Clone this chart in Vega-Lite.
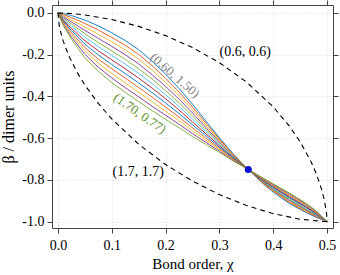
{
"$schema":"https://vega.github.io/schema/vega-lite/v6.json",
"width":281,"height":223,"autosize":"none",
"padding":{"left":52,"top":5,"right":7,"bottom":47},
"config":{"font":"Liberation Serif","view":{"stroke":null},
"axis":{"labelFont":"Liberation Serif","titleFont":"Liberation Serif","domainColor":"#444","tickColor":"#444","tickSize":5,"labelColor":"black","titleColor":"black","labelFontSize":14,"titleFontSize":15,"titleFontWeight":"normal","gridColor":"#d6d6d6","gridDash":[1,2],"gridWidth":0.8}},
"datasets":{
"curves":[
{"a":"0.60","x":0,"y":0},{"a":"0.60","x":0.01,"y":-0.003},{"a":"0.60","x":0.025,"y":-0.012},{"a":"0.60","x":0.05,"y":-0.034},{"a":"0.60","x":0.075,"y":-0.062},{"a":"0.60","x":0.1,"y":-0.095},{"a":"0.60","x":0.125,"y":-0.132},{"a":"0.60","x":0.15,"y":-0.176},{"a":"0.60","x":0.175,"y":-0.231},{"a":"0.60","x":0.2,"y":-0.293},{"a":"0.60","x":0.225,"y":-0.362},{"a":"0.60","x":0.25,"y":-0.437},{"a":"0.60","x":0.275,"y":-0.518},{"a":"0.60","x":0.3,"y":-0.598},{"a":"0.60","x":0.325,"y":-0.673},{"a":"0.60","x":0.3536,"y":-0.75},{"a":"0.60","x":0.38,"y":-0.815},{"a":"0.60","x":0.4,"y":-0.858},{"a":"0.60","x":0.43,"y":-0.913},{"a":"0.60","x":0.46,"y":-0.955},{"a":"0.60","x":0.48,"y":-0.979},{"a":"0.60","x":0.5,"y":-1},
{"a":"0.70","x":0,"y":0},{"a":"0.70","x":0.01,"y":-0.008},{"a":"0.70","x":0.025,"y":-0.022},{"a":"0.70","x":0.05,"y":-0.05},{"a":"0.70","x":0.075,"y":-0.082},{"a":"0.70","x":0.1,"y":-0.117},{"a":"0.70","x":0.125,"y":-0.155},{"a":"0.70","x":0.15,"y":-0.199},{"a":"0.70","x":0.175,"y":-0.253},{"a":"0.70","x":0.2,"y":-0.313},{"a":"0.70","x":0.225,"y":-0.379},{"a":"0.70","x":0.25,"y":-0.451},{"a":"0.70","x":0.275,"y":-0.528},{"a":"0.70","x":0.3,"y":-0.604},{"a":"0.70","x":0.325,"y":-0.676},{"a":"0.70","x":0.3536,"y":-0.75},{"a":"0.70","x":0.38,"y":-0.813},{"a":"0.70","x":0.4,"y":-0.854},{"a":"0.70","x":0.43,"y":-0.908},{"a":"0.70","x":0.46,"y":-0.951},{"a":"0.70","x":0.48,"y":-0.976},{"a":"0.70","x":0.5,"y":-1},
{"a":"0.80","x":0,"y":0},{"a":"0.80","x":0.01,"y":-0.013},{"a":"0.80","x":0.025,"y":-0.033},{"a":"0.80","x":0.05,"y":-0.067},{"a":"0.80","x":0.075,"y":-0.102},{"a":"0.80","x":0.1,"y":-0.138},{"a":"0.80","x":0.125,"y":-0.177},{"a":"0.80","x":0.15,"y":-0.221},{"a":"0.80","x":0.175,"y":-0.274},{"a":"0.80","x":0.2,"y":-0.333},{"a":"0.80","x":0.225,"y":-0.396},{"a":"0.80","x":0.25,"y":-0.465},{"a":"0.80","x":0.275,"y":-0.538},{"a":"0.80","x":0.3,"y":-0.611},{"a":"0.80","x":0.325,"y":-0.679},{"a":"0.80","x":0.3536,"y":-0.75},{"a":"0.80","x":0.38,"y":-0.81},{"a":"0.80","x":0.4,"y":-0.851},{"a":"0.80","x":0.43,"y":-0.904},{"a":"0.80","x":0.46,"y":-0.947},{"a":"0.80","x":0.48,"y":-0.973},{"a":"0.80","x":0.5,"y":-1},
{"a":"0.90","x":0,"y":0},{"a":"0.90","x":0.01,"y":-0.019},{"a":"0.90","x":0.025,"y":-0.043},{"a":"0.90","x":0.05,"y":-0.083},{"a":"0.90","x":0.075,"y":-0.122},{"a":"0.90","x":0.1,"y":-0.16},{"a":"0.90","x":0.125,"y":-0.2},{"a":"0.90","x":0.15,"y":-0.244},{"a":"0.90","x":0.175,"y":-0.296},{"a":"0.90","x":0.2,"y":-0.352},{"a":"0.90","x":0.225,"y":-0.413},{"a":"0.90","x":0.25,"y":-0.479},{"a":"0.90","x":0.275,"y":-0.549},{"a":"0.90","x":0.3,"y":-0.617},{"a":"0.90","x":0.325,"y":-0.683},{"a":"0.90","x":0.3536,"y":-0.75},{"a":"0.90","x":0.38,"y":-0.808},{"a":"0.90","x":0.4,"y":-0.847},{"a":"0.90","x":0.43,"y":-0.899},{"a":"0.90","x":0.46,"y":-0.943},{"a":"0.90","x":0.48,"y":-0.971},{"a":"0.90","x":0.5,"y":-1},
{"a":"1.00","x":0,"y":0},{"a":"1.00","x":0.01,"y":-0.024},{"a":"1.00","x":0.025,"y":-0.053},{"a":"1.00","x":0.05,"y":-0.1},{"a":"1.00","x":0.075,"y":-0.141},{"a":"1.00","x":0.1,"y":-0.182},{"a":"1.00","x":0.125,"y":-0.222},{"a":"1.00","x":0.15,"y":-0.267},{"a":"1.00","x":0.175,"y":-0.317},{"a":"1.00","x":0.2,"y":-0.372},{"a":"1.00","x":0.225,"y":-0.43},{"a":"1.00","x":0.25,"y":-0.493},{"a":"1.00","x":0.275,"y":-0.559},{"a":"1.00","x":0.3,"y":-0.623},{"a":"1.00","x":0.325,"y":-0.686},{"a":"1.00","x":0.3536,"y":-0.75},{"a":"1.00","x":0.38,"y":-0.806},{"a":"1.00","x":0.4,"y":-0.844},{"a":"1.00","x":0.43,"y":-0.895},{"a":"1.00","x":0.46,"y":-0.939},{"a":"1.00","x":0.48,"y":-0.968},{"a":"1.00","x":0.5,"y":-1},
{"a":"1.10","x":0,"y":0},{"a":"1.10","x":0.01,"y":-0.029},{"a":"1.10","x":0.025,"y":-0.063},{"a":"1.10","x":0.05,"y":-0.116},{"a":"1.10","x":0.075,"y":-0.161},{"a":"1.10","x":0.1,"y":-0.203},{"a":"1.10","x":0.125,"y":-0.245},{"a":"1.10","x":0.15,"y":-0.289},{"a":"1.10","x":0.175,"y":-0.339},{"a":"1.10","x":0.2,"y":-0.392},{"a":"1.10","x":0.225,"y":-0.448},{"a":"1.10","x":0.25,"y":-0.508},{"a":"1.10","x":0.275,"y":-0.569},{"a":"1.10","x":0.3,"y":-0.63},{"a":"1.10","x":0.325,"y":-0.689},{"a":"1.10","x":0.3536,"y":-0.75},{"a":"1.10","x":0.38,"y":-0.803},{"a":"1.10","x":0.4,"y":-0.84},{"a":"1.10","x":0.43,"y":-0.89},{"a":"1.10","x":0.46,"y":-0.935},{"a":"1.10","x":0.48,"y":-0.965},{"a":"1.10","x":0.5,"y":-1},
{"a":"1.20","x":0,"y":0},{"a":"1.20","x":0.01,"y":-0.034},{"a":"1.20","x":0.025,"y":-0.074},{"a":"1.20","x":0.05,"y":-0.133},{"a":"1.20","x":0.075,"y":-0.181},{"a":"1.20","x":0.1,"y":-0.225},{"a":"1.20","x":0.125,"y":-0.267},{"a":"1.20","x":0.15,"y":-0.312},{"a":"1.20","x":0.175,"y":-0.36},{"a":"1.20","x":0.2,"y":-0.411},{"a":"1.20","x":0.225,"y":-0.465},{"a":"1.20","x":0.25,"y":-0.522},{"a":"1.20","x":0.275,"y":-0.579},{"a":"1.20","x":0.3,"y":-0.636},{"a":"1.20","x":0.325,"y":-0.692},{"a":"1.20","x":0.3536,"y":-0.75},{"a":"1.20","x":0.38,"y":-0.801},{"a":"1.20","x":0.4,"y":-0.836},{"a":"1.20","x":0.43,"y":-0.885},{"a":"1.20","x":0.46,"y":-0.93},{"a":"1.20","x":0.48,"y":-0.962},{"a":"1.20","x":0.5,"y":-1},
{"a":"1.30","x":0,"y":0},{"a":"1.30","x":0.01,"y":-0.039},{"a":"1.30","x":0.025,"y":-0.084},{"a":"1.30","x":0.05,"y":-0.149},{"a":"1.30","x":0.075,"y":-0.201},{"a":"1.30","x":0.1,"y":-0.247},{"a":"1.30","x":0.125,"y":-0.29},{"a":"1.30","x":0.15,"y":-0.335},{"a":"1.30","x":0.175,"y":-0.382},{"a":"1.30","x":0.2,"y":-0.431},{"a":"1.30","x":0.225,"y":-0.482},{"a":"1.30","x":0.25,"y":-0.536},{"a":"1.30","x":0.275,"y":-0.589},{"a":"1.30","x":0.3,"y":-0.643},{"a":"1.30","x":0.325,"y":-0.695},{"a":"1.30","x":0.3536,"y":-0.75},{"a":"1.30","x":0.38,"y":-0.798},{"a":"1.30","x":0.4,"y":-0.833},{"a":"1.30","x":0.43,"y":-0.881},{"a":"1.30","x":0.46,"y":-0.926},{"a":"1.30","x":0.48,"y":-0.959},{"a":"1.30","x":0.5,"y":-1},
{"a":"1.40","x":0,"y":0},{"a":"1.40","x":0.01,"y":-0.044},{"a":"1.40","x":0.025,"y":-0.094},{"a":"1.40","x":0.05,"y":-0.166},{"a":"1.40","x":0.075,"y":-0.221},{"a":"1.40","x":0.1,"y":-0.268},{"a":"1.40","x":0.125,"y":-0.312},{"a":"1.40","x":0.15,"y":-0.357},{"a":"1.40","x":0.175,"y":-0.403},{"a":"1.40","x":0.2,"y":-0.451},{"a":"1.40","x":0.225,"y":-0.499},{"a":"1.40","x":0.25,"y":-0.55},{"a":"1.40","x":0.275,"y":-0.6},{"a":"1.40","x":0.3,"y":-0.649},{"a":"1.40","x":0.325,"y":-0.699},{"a":"1.40","x":0.3536,"y":-0.75},{"a":"1.40","x":0.38,"y":-0.796},{"a":"1.40","x":0.4,"y":-0.829},{"a":"1.40","x":0.43,"y":-0.876},{"a":"1.40","x":0.46,"y":-0.922},{"a":"1.40","x":0.48,"y":-0.956},{"a":"1.40","x":0.5,"y":-1},
{"a":"1.50","x":0,"y":0},{"a":"1.50","x":0.01,"y":-0.05},{"a":"1.50","x":0.025,"y":-0.104},{"a":"1.50","x":0.05,"y":-0.182},{"a":"1.50","x":0.075,"y":-0.24},{"a":"1.50","x":0.1,"y":-0.29},{"a":"1.50","x":0.125,"y":-0.335},{"a":"1.50","x":0.15,"y":-0.38},{"a":"1.50","x":0.175,"y":-0.425},{"a":"1.50","x":0.2,"y":-0.471},{"a":"1.50","x":0.225,"y":-0.516},{"a":"1.50","x":0.25,"y":-0.564},{"a":"1.50","x":0.275,"y":-0.61},{"a":"1.50","x":0.3,"y":-0.655},{"a":"1.50","x":0.325,"y":-0.702},{"a":"1.50","x":0.3536,"y":-0.75},{"a":"1.50","x":0.38,"y":-0.794},{"a":"1.50","x":0.4,"y":-0.825},{"a":"1.50","x":0.43,"y":-0.871},{"a":"1.50","x":0.46,"y":-0.918},{"a":"1.50","x":0.48,"y":-0.954},{"a":"1.50","x":0.5,"y":-1},
{"a":"1.60","x":0,"y":0},{"a":"1.60","x":0.01,"y":-0.055},{"a":"1.60","x":0.025,"y":-0.115},{"a":"1.60","x":0.05,"y":-0.198},{"a":"1.60","x":0.075,"y":-0.26},{"a":"1.60","x":0.1,"y":-0.311},{"a":"1.60","x":0.125,"y":-0.358},{"a":"1.60","x":0.15,"y":-0.402},{"a":"1.60","x":0.175,"y":-0.447},{"a":"1.60","x":0.2,"y":-0.49},{"a":"1.60","x":0.225,"y":-0.533},{"a":"1.60","x":0.25,"y":-0.578},{"a":"1.60","x":0.275,"y":-0.62},{"a":"1.60","x":0.3,"y":-0.662},{"a":"1.60","x":0.325,"y":-0.705},{"a":"1.60","x":0.3536,"y":-0.75},{"a":"1.60","x":0.38,"y":-0.791},{"a":"1.60","x":0.4,"y":-0.822},{"a":"1.60","x":0.43,"y":-0.867},{"a":"1.60","x":0.46,"y":-0.914},{"a":"1.60","x":0.48,"y":-0.951},{"a":"1.60","x":0.5,"y":-1},
{"a":"1.70","x":0,"y":0},{"a":"1.70","x":0.01,"y":-0.06},{"a":"1.70","x":0.025,"y":-0.125},{"a":"1.70","x":0.05,"y":-0.215},{"a":"1.70","x":0.075,"y":-0.28},{"a":"1.70","x":0.1,"y":-0.333},{"a":"1.70","x":0.125,"y":-0.38},{"a":"1.70","x":0.15,"y":-0.425},{"a":"1.70","x":0.175,"y":-0.468},{"a":"1.70","x":0.2,"y":-0.51},{"a":"1.70","x":0.225,"y":-0.55},{"a":"1.70","x":0.25,"y":-0.592},{"a":"1.70","x":0.275,"y":-0.63},{"a":"1.70","x":0.3,"y":-0.668},{"a":"1.70","x":0.325,"y":-0.708},{"a":"1.70","x":0.3536,"y":-0.75},{"a":"1.70","x":0.38,"y":-0.789},{"a":"1.70","x":0.4,"y":-0.818},{"a":"1.70","x":0.43,"y":-0.862},{"a":"1.70","x":0.46,"y":-0.91},{"a":"1.70","x":0.48,"y":-0.948},{"a":"1.70","x":0.5,"y":-1}
],
"dashed":[
{"d":"u","x":0,"y":0},{"d":"u","x":0.025,"y":-0.003},{"d":"u","x":0.05,"y":-0.0095},{"d":"u","x":0.1,"y":-0.0314},{"d":"u","x":0.15,"y":-0.0643},{"d":"u","x":0.2,"y":-0.1086},{"d":"u","x":0.25,"y":-0.1658},{"d":"u","x":0.3,"y":-0.2382},{"d":"u","x":0.35,"y":-0.3302},{"d":"u","x":0.4,"y":-0.4499},{"d":"u","x":0.43,"y":-0.5422},{"d":"u","x":0.45,"y":-0.6174},{"d":"u","x":0.47,"y":-0.7113},{"d":"u","x":0.48,"y":-0.7702},{"d":"u","x":0.49,"y":-0.8458},{"d":"u","x":0.495,"y":-0.897},{"d":"u","x":0.499,"y":-0.96},{"d":"u","x":0.5,"y":-1},
{"d":"l","x":0,"y":0},{"d":"l","x":0.0025,"y":-0.0605},{"d":"l","x":0.005,"y":-0.0908},{"d":"l","x":0.01,"y":-0.1363},{"d":"l","x":0.02,"y":-0.204},{"d":"l","x":0.035,"y":-0.2817},{"d":"l","x":0.05,"y":-0.3453},{"d":"l","x":0.075,"y":-0.4334},{"d":"l","x":0.1,"y":-0.5075},{"d":"l","x":0.15,"y":-0.629},{"d":"l","x":0.2,"y":-0.7261},{"d":"l","x":0.25,"y":-0.8054},{"d":"l","x":0.3,"y":-0.8701},{"d":"l","x":0.35,"y":-0.9219},{"d":"l","x":0.4,"y":-0.9614},{"d":"l","x":0.45,"y":-0.9882},{"d":"l","x":0.5,"y":-1}
]},
"layer":[
{"data":{"name":"curves"},"mark":{"type":"line","strokeWidth":0.9},
"encoding":{
"x":{"field":"x","type":"quantitative","scale":{"domain":[-0.011,0.511],"nice":false,"zero":false},
"axis":{"orient":"bottom","values":[0,0.1,0.2,0.3,0.4,0.5],"labelExpr":"format(datum.value,'.1f')","grid":true,"title":"Bond order, χ","labelPadding":5,"titlePadding":4}},
"y":{"field":"y","type":"quantitative","scale":{"domain":[-1.03,0.038],"nice":false,"zero":false},
"axis":{"orient":"left","values":[-1,-0.8,-0.6,-0.4,-0.2,0],"labelExpr":"replace(format(datum.value,'.1f'),'−','-')","grid":true,"title":"β / dimer units","titleFontSize":16,"labelPadding":3,"titlePadding":5}},
"color":{"field":"a","type":"nominal","legend":null,"scale":{"domain":["0.60","0.70","0.80","0.90","1.00","1.10","1.20","1.30","1.40","1.50","1.60","1.70"],"range":["#0072BD","#D95319","#EDB120","#7E2F8E","#77AC30","#4DBEEE","#A2142F","#0072BD","#D95319","#EDB120","#7E2F8E","#77AC30"]}}}},
{"data":{"name":"dashed"},"mark":{"type":"line","color":"black","strokeDash":[5,4],"strokeWidth":1.1},
"encoding":{
"x":{"field":"x","type":"quantitative","scale":{"domain":[-0.011,0.511],"nice":false,"zero":false},"axis":null},
"y":{"field":"y","type":"quantitative","scale":{"domain":[-1.03,0.038],"nice":false,"zero":false},"axis":null},
"detail":{"field":"d"}}},
{"data":{"values":[{"x":0.3536,"y":-0.75}]},"mark":{"type":"point","filled":true,"opacity":1,"color":"#0a10d0","size":50},
"encoding":{
"x":{"field":"x","type":"quantitative","scale":{"domain":[-0.011,0.511],"nice":false,"zero":false},
"axis":{"orient":"top","values":[0,0.1,0.2,0.3,0.4,0.5],"labels":false,"grid":false,"title":null}},
"y":{"field":"y","type":"quantitative","scale":{"domain":[-1.03,0.038],"nice":false,"zero":false},
"axis":{"orient":"right","values":[-1,-0.8,-0.6,-0.4,-0.2,0],"labels":false,"grid":false,"title":null}}}},
{"data":{"values":[{"x":0.348,"y":-0.187,"t":"(0.6, 0.6)"},{"x":0.149,"y":-0.763,"t":"(1.7, 1.7)"}]},"mark":{"type":"text","fontSize":14,"color":"black","font":"Liberation Serif"},
"encoding":{"x":{"field":"x","type":"quantitative","axis":null},"y":{"field":"y","type":"quantitative","axis":null},"text":{"field":"t"}}},
{"data":{"values":[{"x":0.217,"y":-0.3,"t":"(0.60, 1.50)"}]},"mark":{"type":"text","fontSize":13,"color":"#808080","angle":41,"font":"Liberation Serif"},
"encoding":{"x":{"field":"x","type":"quantitative","axis":null},"y":{"field":"y","type":"quantitative","axis":null},"text":{"field":"t"}}},
{"data":{"values":[{"x":0.152,"y":-0.482,"t":"(1.70, 0.77)"}]},"mark":{"type":"text","fontSize":13,"color":"#5e8f2f","angle":35,"font":"Liberation Serif"},
"encoding":{"x":{"field":"x","type":"quantitative","axis":null},"y":{"field":"y","type":"quantitative","axis":null},"text":{"field":"t"}}}
],
"resolve":{"axis":{"x":"independent","y":"independent"}}
}
